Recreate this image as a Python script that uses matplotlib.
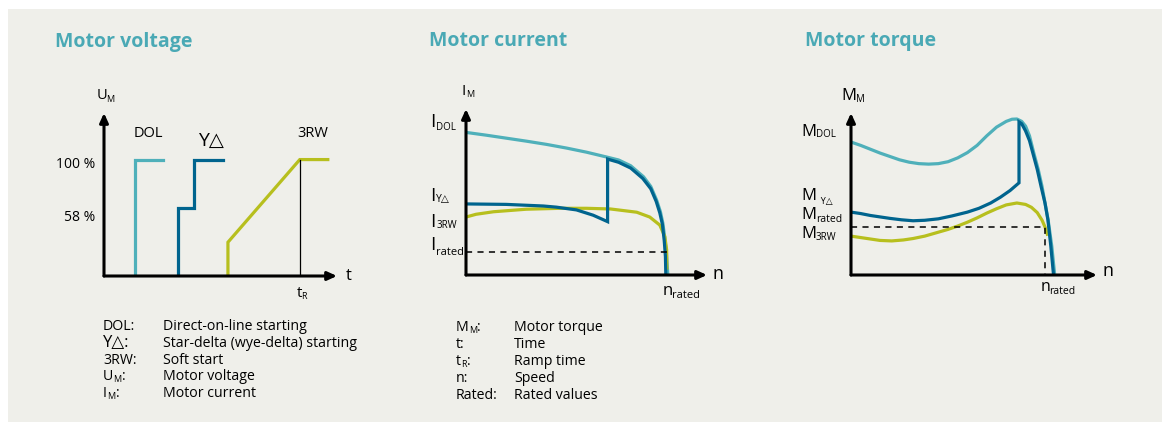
import matplotlib
matplotlib.use("Agg")
import matplotlib.pyplot as plt
from matplotlib.patches import Rectangle

plt.rcParams['font.family'] = ['Open Sans', 'DejaVu Sans']

W, H = 1162, 422

# colours
C_DOL = '#4FB0BA'
C_YD = '#00648E'
C_RW = '#B7BF1E'
C_TITLE = '#4AA9B5'
C_BG = '#EFEFEA'

# ---- motor voltage (t in units of ramp time, U in %) ----
volt_dol_t = [0.158, 0.158, 0.30]
volt_dol_u = [0, 100, 100]
volt_yd_t = [0.378, 0.378, 0.46, 0.46, 0.607]
volt_yd_u = [0, 58, 58, 100, 100]
volt_rw_t = [0.633, 0.633, 1.0, 1.143]
volt_rw_u = [0, 29, 100, 100]
t_ramp = 1.0

# ---- motor current (n in units of rated speed, I in units of rated current) ----
cur_dol_n = [0, 0.1, 0.2, 0.3, 0.4, 0.5, 0.6, 0.7, 0.76, 0.82, 0.884, 0.92, 0.949, 0.968, 0.98, 0.99, 0.998, 1.005]
cur_dol_i = [6.2, 6.08, 5.95, 5.82, 5.68, 5.52, 5.34, 5.13, 5.0, 4.75, 4.27, 3.85, 3.26, 2.75, 2.26, 1.6, 0.95, 0]
cur_yd_n = [0, 0.2, 0.385, 0.45, 0.55, 0.633, 0.705, 0.705, 0.76, 0.82, 0.88, 0.92, 0.947, 0.965, 0.978, 0.987, 0.993, 0.995]
cur_yd_i = [3.09, 3.07, 3.0, 2.95, 2.83, 2.6, 2.32, 5.04, 4.9, 4.65, 4.2, 3.75, 3.2, 2.7, 2.2, 1.5, 0.8, 0]
cur_rw_n = [0, 0.05, 0.137, 0.3, 0.47, 0.6, 0.72, 0.85, 0.915, 0.965, 0.99, 0.999, 1.0]
cur_rw_i = [2.52, 2.64, 2.75, 2.86, 2.9, 2.9, 2.87, 2.73, 2.52, 2.17, 1.67, 1.1, 0.3]
i_rated = 1.0
n_rated = 1.0

# ---- motor torque (n in units of rated speed, M in units of rated torque) ----
trq_dol_n = [0, 0.05, 0.1, 0.15, 0.2, 0.25, 0.3, 0.35, 0.4, 0.45, 0.5, 0.55, 0.6, 0.65, 0.7,
             0.75, 0.8, 0.83, 0.855, 0.88, 0.9, 0.92, 0.943, 0.965, 0.985, 1.0, 1.016, 1.035, 1.05]
trq_dol_m = [2.77, 2.70, 2.62, 2.54, 2.47, 2.40, 2.35, 2.32, 2.31, 2.32, 2.36, 2.44, 2.55, 2.7, 2.9,
             3.08, 3.2, 3.245, 3.25, 3.2, 3.1, 2.9, 2.53, 2.2, 1.84, 1.5, 1.15, 0.6, 0]
trq_yd_n = [0, 0.05, 0.1, 0.15, 0.2, 0.26, 0.32, 0.38, 0.45, 0.52, 0.6, 0.66, 0.72, 0.77, 0.82, 0.866,
            0.866, 0.88, 0.9, 0.92, 0.94, 0.96, 0.98, 1.0, 1.015, 1.03, 1.044]
trq_yd_m = [1.31, 1.28, 1.24, 1.21, 1.18, 1.15, 1.13, 1.14, 1.17, 1.23, 1.31, 1.39, 1.5, 1.62, 1.76, 1.92,
            3.19, 3.15, 3.0, 2.8, 2.5, 2.2, 1.84, 1.5, 1.15, 0.6, 0]
trq_rw_n = [0, 0.05, 0.1, 0.15, 0.21, 0.27, 0.32, 0.38, 0.44, 0.5, 0.55, 0.6, 0.65, 0.7, 0.75, 0.8,
            0.855, 0.9, 0.93, 0.96, 0.985, 1.0, 1.012]
trq_rw_m = [0.81, 0.78, 0.75, 0.72, 0.71, 0.73, 0.76, 0.81, 0.88, 0.95, 1.02, 1.1, 1.19, 1.29, 1.38, 1.46,
            1.5, 1.47, 1.41, 1.3, 1.14, 1.0, 0.85]
m_rated = 1.0

fig = plt.figure(figsize=(W / 100, H / 100), dpi=100)
fig.patch.set_facecolor('white')
fig.patches.append(Rectangle((8 / W, 0), 1, 1 - 9 / H, transform=fig.transFigure,
                             facecolor=C_BG, edgecolor='none', zorder=-10))
renderer = fig.canvas.get_renderer()


def panel(left, right, top, bottom, xmax, ymax):
    ax = fig.add_axes([left / W, 1 - bottom / H, (right - left) / W, (bottom - top) / H])
    ax.set_xlim(0, xmax)
    ax.set_ylim(0, ymax)
    ax.axis('off')
    arrow = dict(arrowstyle='-|>,head_length=0.55,head_width=0.25', lw=2.2,
                 color='black', shrinkA=0, shrinkB=0)
    ax.annotate('', xy=(xmax, 0), xytext=(0, 0), arrowprops=arrow, annotation_clip=False)
    ax.annotate('', xy=(0, ymax), xytext=(0, 0), arrowprops=arrow, annotation_clip=False)
    return ax


def put(x, y, parts, ha='left', color='black', gap=0.0, **kw):
    # parts: list of (text, size, dy) drawn one after another on a baseline at pixel y
    texts = []
    for s, size, dy in parts:
        t = fig.text(0, 1 - (y + dy) / H, s, size=size, va='baseline', ha='left', color=color, **kw)
        texts.append(t)
    widths = [t.get_window_extent(renderer).width + gap for t in texts]
    total = sum(widths)
    x0 = x if ha == 'left' else (x - total / 2 if ha == 'center' else x - total)
    for t, w in zip(texts, widths):
        t.set_x(x0 / W)
        x0 += w
    return texts


def sub(x, y, main, s, size, subsize, dy=3, ha='left', gap=-0.8):
    return put(x, y, [(main, size, 0), (s, subsize, dy)], ha=ha, gap=gap)


lw = 2.3

# ---------------- Motor voltage ----------------
ax1 = panel(104, 337, 113, 276, 1.19, 140)
ax1.plot(volt_dol_t, volt_dol_u, color=C_DOL, lw=lw, solid_joinstyle='miter')
ax1.plot(volt_yd_t, volt_yd_u, color=C_YD, lw=lw, solid_joinstyle='miter')
ax1.plot(volt_rw_t, volt_rw_u, color=C_RW, lw=lw, solid_joinstyle='miter')
ax1.plot([t_ramp, t_ramp], [0, 100], color='black', lw=0.9)

put(55, 47, [('Motor voltage', 14, 0)], color=C_TITLE, weight='bold')
sub(96.5, 99, 'U', 'M', 10.5, 6.5, dy=3)
put(148.5, 137, [('DOL', 10.5, 0)], ha='center')
put(210.5, 146, [('Y△', 14, 0)], ha='center')
put(313, 137, [('3RW', 10.5, 0)], ha='center')
put(95, 168, [('100 %', 10, 0)], ha='right')
put(95, 221, [('58 %', 10, 0)], ha='right')
put(346, 280, [('t', 12, 0)])
sub(301, 297, 't', 'R', 11, 6.5, dy=2, ha='center')

# ---------------- Motor current ----------------
ax2 = panel(466, 707, 109, 275, 1.2, 166 / 23)
ax2.plot(cur_dol_n, cur_dol_i, color=C_DOL, lw=lw)
ax2.plot(cur_rw_n, cur_rw_i, color=C_RW, lw=lw)
ax2.plot(cur_yd_n, cur_yd_i, color=C_YD, lw=lw, solid_joinstyle='miter')
ax2.plot([0, n_rated], [i_rated, i_rated], color='black', lw=1.1, ls=(0, (4, 3.5)))

put(429, 46, [('Motor current', 14, 0)], color=C_TITLE, weight='bold')
sub(461.5, 95, 'I', 'M', 11, 6.5, dy=2, gap=0.5)
sub(430, 127, 'I', 'DOL', 13.5, 7, dy=3, gap=0.8)
sub(430, 201, 'I', 'Y△', 13.5, 7.5, dy=1, gap=0.8)
sub(430, 227, 'I', '3RW', 13.5, 7, dy=1.5, gap=0.8)
sub(430, 250, 'I', 'rated', 13.5, 8, dy=5, gap=0.8)
put(713, 279, [('n', 13, 0)])
sub(663, 295, 'n', 'rated', 12, 8, dy=3)

# ---------------- Motor torque ----------------
ax3 = panel(851, 1097, 113, 275, 246 / 194, 162 / 48)
ax3.plot(trq_dol_n, trq_dol_m, color=C_DOL, lw=lw)
ax3.plot(trq_rw_n, trq_rw_m, color=C_RW, lw=lw)
ax3.plot(trq_yd_n, trq_yd_m, color=C_YD, lw=lw, solid_joinstyle='miter')
ax3.plot([0, n_rated, n_rated], [m_rated, m_rated, 0], color='black', lw=1.1, ls=(0, (4, 3.5)))

put(805, 46, [('Motor torque', 14, 0)], color=C_TITLE, weight='bold')
sub(841.5, 100, 'M', 'M', 12, 7, dy=2)
sub(801.5, 136, 'M', 'DOL', 12, 7, dy=1)
sub(801.5, 200, 'M', '  Y△', 12, 6.5, dy=4)
sub(801.5, 219, 'M', 'rated', 12, 7.5, dy=3.5)
sub(801.5, 238, 'M', '3RW', 12, 7, dy=2.5)
put(1103, 276, [('n', 13, 0)])
sub(1040.5, 291, 'n', 'rated', 11.5, 7.5, dy=2.5)

# ---------------- Legends ----------------
fs = 10.2
leg_left = [
    [('DOL:', fs, 0)],
    [('Y△:', 12, 0)],
    [('3RW:', fs, 0)],
    [('U', fs, 0), ('M', 6.5, 2), (':', fs, 0)],
    [('I', fs, 0), ('M', 6.5, 2), (':', fs, 0)],
]
leg_left_txt = ['Direct-on-line starting', 'Star-delta (wye-delta) starting',
                'Soft start', 'Motor voltage', 'Motor current']
leg_right = [
    [('M', fs, 0), ('M', 6.5, 2), (':', fs, 0)],
    [('t:', fs, 0)],
    [('t', fs, 0), ('R', 6.5, 2), (':', fs, 0)],
    [('n:', fs, 0)],
    [('Rated:', fs, 0)],
]
leg_right_txt = ['Motor torque', 'Time', 'Ramp time', 'Speed', 'Rated values']

for k in range(5):
    y = 330 + k * 16.8
    put(103, y, leg_left[k], gap=0.2)
    put(163, y, [(leg_left_txt[k], fs, 0)])
    y = 331 + k * 17
    put(456, y, leg_right[k], gap=0.2)
    put(514, y, [(leg_right_txt[k], fs, 0)])

fig.savefig('out.png', dpi=100, facecolor=fig.get_facecolor())
